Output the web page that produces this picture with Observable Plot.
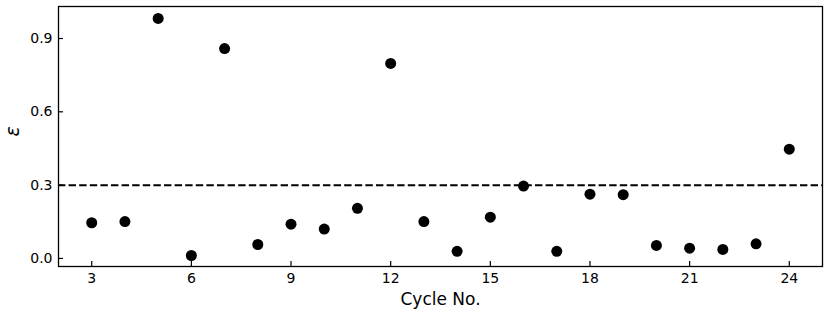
<!DOCTYPE html>
<html>
<head>
<meta charset="utf-8">
<script src="https://cdn.jsdelivr.net/npm/d3@7"></script>
<script src="https://cdn.jsdelivr.net/npm/@observablehq/plot@0.6"></script>
<style>
  html, body { margin: 0; padding: 0; background: #fff; }
  #chart svg { display: block; font-family: "DejaVu Sans", sans-serif; }
</style>
</head>
<body>
<div id="chart"></div>
<script>
const cycles = [3, 4, 5, 6, 7, 8, 9, 10, 11, 12, 13, 14, 15, 16, 17, 18, 19, 20, 21, 22, 23, 24];
const epsilon = [0.146, 0.151, 0.982, 0.012, 0.859, 0.057, 0.140, 0.120, 0.205, 0.798, 0.151, 0.029, 0.169, 0.296, 0.029, 0.263, 0.261, 0.053, 0.042, 0.037, 0.060, 0.447];
const threshold = [0.3];
const xTicks = [3, 6, 9, 12, 15, 18, 21, 24];
const yTicks = [0.0, 0.3, 0.6, 0.9];
const xLabel = "Cycle No.";
const yLabel = "ε";

const data = cycles.map((c, i) => ({cycle: c, eps: epsilon[i]}));

const chart = Plot.plot({
  width: 830,
  height: 312,
  marginLeft: 58,
  marginRight: 8,
  marginTop: 6,
  marginBottom: 46,
  style: {fontFamily: "DejaVu Sans, sans-serif", fontSize: "14px", color: "#000", background: "#fff"},
  x: {domain: [2, 25]},
  y: {domain: [-0.033, 1.031]},
  marks: [
    Plot.frame({stroke: "#000", strokeWidth: 1.3}),
    Plot.ruleY(threshold, {stroke: "#000", strokeWidth: 2, strokeDasharray: "7.4,3.2"}),
    Plot.axisX({ticks: xTicks, tickSize: 0, tickPadding: 7, tickFormat: d => String(d), label: null, fontSize: 14, fill: "#000"}),
    Plot.axisX({ticks: xTicks, tickSize: -5, tickFormat: () => "", label: null, stroke: "#000", strokeWidth: 1.2}),
    Plot.axisY({ticks: yTicks, tickSize: 0, tickPadding: 6, tickFormat: d => d.toFixed(1), label: null, fontSize: 14, fill: "#000"}),
    Plot.axisY({ticks: yTicks, tickSize: -5, tickFormat: () => "", label: null, stroke: "#000", strokeWidth: 1.2}),
    Plot.dot(data, {x: "cycle", y: "eps", r: 5.5, fill: "#000", stroke: "none"}),
    Plot.text([xLabel], {frameAnchor: "bottom", text: d => d, dy: 38, fontSize: 17, fill: "#000"}),
    Plot.text([yLabel], {frameAnchor: "left", text: d => d, dx: -46, rotate: -90, fontSize: 19, fontStyle: "italic", fill: "#000"})
  ]
});
document.getElementById("chart").appendChild(chart);
</script>
</body>
</html>
